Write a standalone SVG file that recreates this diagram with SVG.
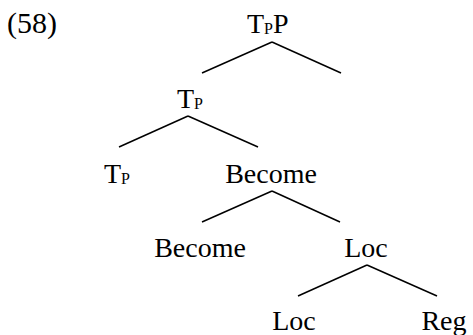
<svg xmlns="http://www.w3.org/2000/svg" width="473" height="335" viewBox="0 0 473 335">
<style>
text{font-family:"Liberation Serif","Times New Roman",serif;font-size:28px;fill:#000}
.s{font-size:16px}
line{stroke:#000;stroke-width:1.5}
</style>
<rect width="473" height="335" fill="#fff"/>
<text x="7" y="33" style="font-size:30px">(58)</text>
<g id="n-tpp"><text x="247" y="33">T<tspan class="s" dy="1">P</tspan><tspan dy="-1">P</tspan></text></g>
<g id="n-tp1"><text x="177" y="108">T<tspan class="s" dy="1">P</tspan></text></g>
<g id="n-tp2"><text x="104" y="183">T<tspan class="s" dy="1">P</tspan></text></g>
<g id="n-become1"><text x="271" y="183" text-anchor="middle">Become</text></g>
<g id="n-become2"><text x="200" y="257" text-anchor="middle">Become</text></g>
<g id="n-loc1"><text x="366" y="257" text-anchor="middle">Loc</text></g>
<g id="n-loc2"><text x="294" y="330" text-anchor="middle">Loc</text></g>
<g id="n-reg"><text x="444" y="330" text-anchor="middle">Reg</text></g>
<g id="connectors">
<line x1="272" y1="42" x2="202" y2="73"/>
<line x1="272" y1="42" x2="341" y2="73"/>
<line x1="188" y1="116" x2="119" y2="147"/>
<line x1="188" y1="116" x2="258" y2="147"/>
<line x1="272" y1="191" x2="202" y2="222"/>
<line x1="272" y1="191" x2="340" y2="222"/>
<line x1="367" y1="265" x2="298" y2="296"/>
<line x1="367" y1="265" x2="437" y2="296"/>
</g>
</svg>
